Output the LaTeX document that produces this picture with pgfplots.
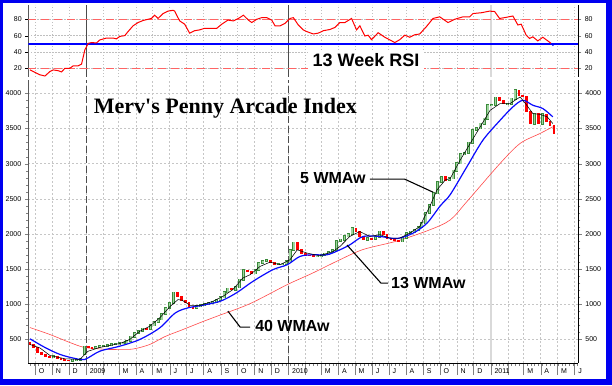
\documentclass[border=0pt]{standalone}
\usepackage{pgfplots}
\usepackage{pgfplotstable}
\pgfplotsset{compat=1.18}
\usepackage{fontspec}
\setmainfont{Liberation Sans}
\newfontfamily\titlefont{Liberation Serif}
\definecolor{frameblue}{HTML}{0000F0}
\definecolor{gup}{HTML}{3A8A3A}
\definecolor{gupfill}{HTML}{9ED49E}
\definecolor{cred}{HTML}{FF0000}
\definecolor{maforty}{HTML}{FF4A4A}
\definecolor{mathirteen}{HTML}{0A0AFF}
\definecolor{rsidash}{RGB}{255,100,100}

\pgfplotstableread{
d o c
-59 245 259
-24 200 215
-17 215 215
-10 215 220
-3 290 400
18 380 395
25 395 405
32 405 410
39 410 420
46 420 430
53 430 440
60 440 444
67 444 445
74 445 480
81 480 540
88 540 590
95 590 620
102 620 655
116 650 700
123 700 750
130 750 785
137 785 860
144 860 950
151 950 1020
158 1020 1166
200 950 970
207 970 990
214 990 1000
221 1000 1020
228 1020 1040
235 1040 1060
242 1060 1100
249 1100 1170
256 1170 1223
270 1210 1240
277 1240 1350
284 1350 1482
305 1440 1492
312 1492 1587
319 1587 1620
326 1620 1630
347 1572 1572
354 1572 1580
361 1580 1610
368 1610 1775
375 1775 1879
417 1680 1680
424 1680 1700
431 1700 1720
438 1720 1740
445 1740 1775
452 1775 1900
459 1900 1920
466 1920 1965
473 1965 2000
480 2000 2083
508 1917 1940
522 1930 1960
529 1960 2035
571 1893 1940
578 1940 2012
585 2012 2035
592 2035 2060
599 2060 2100
606 2100 2150
613 2150 2295
620 2295 2413
627 2413 2578
634 2578 2743
641 2743 2814
655 2767 2790
662 2790 2900
669 2900 3004
676 3004 3136
683 3136 3150
690 3150 3300
697 3300 3476
704 3476 3500
711 3500 3570
718 3570 3641
725 3641 3830
732 3830 3830
739 3830 3939
760 3854 3854
767 3854 3925
774 3925 4042
809 3570 3710
823 3570 3700
}\upT

\pgfplotstableread{
d o c
-101 460 430
-94 430 390
-87 390 320
-80 320 285
-73 285 260
-66 260 245
-52 259 235
-45 235 215
-38 215 205
-31 205 200
4 400 385
11 385 380
109 655 650
165 1166 1113
172 1113 1050
179 1050 1020
186 1020 953
193 953 950
263 1223 1210
291 1482 1468
298 1468 1440
333 1630 1600
340 1600 1572
382 1879 1775
389 1775 1728
396 1728 1700
403 1700 1690
410 1690 1680
487 2083 2035
494 2035 1965
501 1965 1917
515 1940 1930
536 2035 1990
543 1990 1940
550 1940 1925
557 1925 1910
564 1910 1893
648 2814 2767
746 3939 3900
753 3900 3854
781 4042 3972
788 3972 3950
795 3950 3735
802 3735 3570
816 3710 3570
830 3700 3600
837 3600 3540
844 3540 3430
}\downT

\pgfplotsset{
  common/.style={
    scale only axis, anchor=south west, width=550pt,
    xmin=-104, xmax=888,
    tick label style={font=\fontsize{7}{8}\selectfont},
    /pgf/number format/assume math mode=true,
    /pgf/number format/set thousands separator={},
    tick align=outside,
  },
}

\begin{document}
\begin{tikzpicture}
\fill[frameblue] (0pt,0pt) rectangle (612pt,385pt);
\fill[white] (3pt,6pt) rectangle (606pt,382pt);

% ---------- RSI panel: left axis, grid ----------
\begin{axis}[common, at={(28.3pt,308pt)}, height=72pt, ymin=9.3, ymax=97.5,
  axis y line*=left, axis x line=none,
  y axis line style={draw=gray!70!black, line width=1.5pt},
  ymajorgrids, ytick={20,40,60,80},
  major grid style={gray!50, dash pattern=on 1.2pt off 1.8pt, line width=0.5pt},
  ytick style={black}, major tick length=3pt,
]
\pgfplotsinvokeforeach{-92,-61,-31,31,59,90,120,151,181,212,243,273,304,334,396,424,455,485,516,546,577,608,638,669,699,761,789,820,850,881}{
  \draw[gray!50, dash pattern=on 1.2pt off 1.8pt, line width=0.5pt] (axis cs:#1,9.3) -- (axis cs:#1,97.5);
}
\draw[gray!60!black, line width=0.6pt] (axis cs:0,9.3) -- (axis cs:0,97.5);
\draw[gray!60!black, line width=0.6pt] (axis cs:365,9.3) -- (axis cs:365,97.5);
\draw[gray!30, line width=1.6pt] (axis cs:730,9.3) -- (axis cs:730,97.5);
\end{axis}

% ---------- RSI panel: right axis, reference levels and RSI ----------
\begin{axis}[common, at={(28.3pt,308pt)}, height=72pt, ymin=9.3, ymax=97.5,
  axis y line*=right, axis x line=none,
  y axis line style={draw=black, line width=0.6pt},
  ytick={20,40,60,80}, major tick length=3pt,
]
\addplot[draw=rsidash, line width=1.3pt, dash pattern=on 8pt off 5pt, mark=none, forget plot] coordinates {(-104,80) (888,80)};
\addplot[draw=rsidash, line width=1.3pt, dash pattern=on 8pt off 5pt, mark=none, forget plot] coordinates {(-104,20) (888,20)};
\addplot[draw=blue, line width=1.6pt, mark=none, forget plot] coordinates {(-104,50) (888,50)};
\addplot[draw=cred, line width=1pt, mark=none] coordinates {
(-101,18) (-95,16) (-83,12) (-74,10.5) (-65,16) (-59,18) (-50,17) (-44,15.5)
(-38,20) (-29,20) (-23,23) (-14,23) (-8,25) (-2,42.5) (4,50.5) (10,51.5)
(19,51) (25,54.7) (37,57) (49,57) (55,56) (61,59) (70,60) (76,65) (85,72)
(94,76) (103,78.5) (112,80) (118,81) (124,85) (130,81) (139,87) (148,90)
(157,91) (160,90) (169,78) (178,74) (187,63) (196,66) (205,67) (214,69)
(223,69) (236,69) (245,74) (256,79) (266,78) (275,81) (284,85) (293,79)
(299,76) (308,80) (317,82) (326,82) (335,79) (341,72) (350,72) (359,75)
(368,81) (374,82) (383,73) (392,67) (398,65) (410,62) (419,63) (428,66)
(440,67.5) (449,70) (458,76) (467,76) (479,81) (488,67) (494,72) (503,59.5)
(509,60.5) (515,55) (527,63.5) (539,58) (557,51.5) (566,55) (575,60.5)
(584,58) (593,61) (602,62) (614,71) (626,81) (638,83) (653,76) (665,80)
(680,83) (692,83) (698,87) (713,88) (728,90) (737,89.5) (746,81) (755,82)
(770,84) (779,73) (785,74) (794,60.5) (800,56.5) (806,58.5) (815,53.5)
(824,58) (833,53.5) (839,50.5)
};
\addplot[draw=blue, line width=1pt, mark=none] coordinates {(839,50.5) (843,47.5)};
\node[fill=white, inner xsep=5pt, inner ysep=2pt, font=\bfseries\fontsize{18}{20}\selectfont]
  at (axis cs:505,30) {13 Week RSI};
\end{axis}

% ---------- Main panel: left y axis and horizontal grid ----------
\begin{axis}[common, at={(28.3pt,22pt)}, height=283pt, ymin=166, ymax=4189,
  axis y line*=left, axis x line=none,
  y axis line style={draw=gray!70!black, line width=1.5pt},
  ytick={500,1000,...,4000}, minor y tick num=4,
  major tick length=3.5pt, minor tick length=2pt,
  ymajorgrids, major grid style={gray!45, dash pattern=on 2pt off 2pt, line width=0.5pt},
]
\end{axis}

% ---------- Main panel: data and x axis ----------
\begin{axis}[common, at={(28.3pt,22pt)}, height=283pt, ymin=166, ymax=4189,
  axis x line*=bottom, axis y line=none,
  x axis line style={draw=black, line width=0.8pt},
  xtick={-92,-61,-31,0,31,59,90,120,151,181,212,243,273,304,334,365,396,424,455,485,516,546,577,608,638,669,699,730,761,789,820,850,881},
  xticklabels={O,N,D,2009,{},M,A,M,J,J,A,S,O,N,D,2010,{},M,A,M,J,J,A,S,O,N,D,2011,{},M,A,M,J},
  minor xtick={-101,-94,...,887},
  major tick length=12pt, minor tick length=3pt,
  xticklabel style={anchor=west, xshift=0.3pt, yshift=4pt},
  xmajorgrids, major grid style={gray!45, dash pattern=on 2pt off 2pt, line width=0.5pt},
]
\draw[gray!60!black, line width=0.7pt, dash pattern=on 7pt off 3pt] (axis cs:0,166) -- (axis cs:0,4189);
\draw[gray!60!black, line width=0.7pt, dash pattern=on 7pt off 3pt] (axis cs:365,166) -- (axis cs:365,4189);
\draw[gray!30, line width=1.6pt] (axis cs:730,166) -- (axis cs:730,4189);

% 40 WMAw
\addplot[maforty, line width=0.6pt, mark=none, smooth] coordinates {
(-101,670) (-65,571) (-29,457) (-5,391) (16,372) (43,358) (61,360) (85,365)
(115,429) (142,540) (175,642) (206,740) (236,830) (296,1010) (363,1280)
(409,1445) (458,1634) (500,1780) (561,1900) (620,2059) (657,2200) (687,2460)
(747,3004) (783,3287) (819,3429) (842,3523)
};

% candles: green (up) hollow style
\addplot[draw=none, mark=none, forget plot,
  error bars/.cd, y dir=both, y explicit, error mark=none,
  error bar style={gup, line width=3pt}]
  table[x=d, y expr={(\thisrow{o}+\thisrow{c})/2}, y error expr={abs(\thisrow{c}-\thisrow{o})/2+14}] {\upT};
\addplot[draw=none, mark=none, forget plot,
  error bars/.cd, y dir=both, y explicit, error mark=none,
  error bar style={gupfill, line width=1.5pt}]
  table[x=d, y expr={(\thisrow{o}+\thisrow{c})/2}, y error expr={abs(\thisrow{c}-\thisrow{o})/2+3}] {\upT};
% candles: red (down)
\addplot[draw=none, mark=none, forget plot,
  error bars/.cd, y dir=both, y explicit, error mark=none,
  error bar style={cred, line width=2.8pt}]
  table[x=d, y expr={(\thisrow{o}+\thisrow{c})/2}, y error expr={abs(\thisrow{c}-\thisrow{o})/2+7}] {\downT};

% 13 WMAw
\addplot[mathirteen, line width=1.2pt, mark=none, smooth] coordinates {
(-101,510) (-74,387) (-47,288) (-20,231) (-2,217) (25,334) (61,405) (97,500)
(133,665) (161,877) (184,950) (206,981) (242,1043) (272,1166) (301,1326)
(337,1492) (363,1563) (386,1681) (409,1705) (435,1705) (458,1775) (476,1846)
(500,1965) (530,1965) (561,1935) (590,2012) (615,2153) (639,2400) (657,2560)
(687,2955) (716,3334) (747,3617) (770,3806) (788,3901) (806,3830) (824,3783)
(842,3665)
};

% 5 WMAw
\addplot[black, line width=0.55pt, mark=none] coordinates {
(-101,429) (-83,380) (-65,273) (-38,226) (-11,217) (4,334) (25,387) (61,443)
(79,500) (97,618) (115,689) (133,807) (152,972) (166,1067) (173,1060) (188,986)
(206,986) (229,1043) (247,1113) (265,1210) (283,1374) (296,1421) (314,1539)
(332,1600) (350,1563) (368,1634) (381,1775) (399,1728) (422,1690) (446,1752)
(458,1822) (476,1965) (494,2035) (512,1965) (530,1990) (548,1941) (566,1941)
(584,2012) (602,2106) (620,2389) (633,2625) (648,2767) (657,2790) (675,3051)
(693,3287) (711,3523) (729,3759) (747,3854) (765,3854) (783,3948) (795,3830)
(806,3712) (819,3700) (832,3665) (842,3570)
};

% annotations
\node[anchor=west, inner sep=0pt, font=\titlefont\bfseries\fontsize{22}{26}\selectfont]
  at (axis cs:14,3787) {Merv's Penny Arcade Index};
\node[anchor=west, inner sep=0pt, font=\bfseries\fontsize{16}{18}\selectfont]
  at (axis cs:386,2793) {5 WMAw};
\draw[black, line width=1.1pt] (axis cs:512,2779) -- (axis cs:575,2779) -- (axis cs:626,2594);
\node[anchor=west, inner sep=0pt, font=\bfseries\fontsize{16}{18}\selectfont]
  at (axis cs:550,1302) {13 WMAw};
\draw[black, line width=1.1pt] (axis cs:471,1842) -- (axis cs:532,1302) -- (axis cs:545,1302);
\node[anchor=west, inner sep=0pt, font=\bfseries\fontsize{16}{18}\selectfont]
  at (axis cs:305,691) {40 WMAw};
\draw[black, line width=1.1pt] (axis cs:256,904) -- (axis cs:278,677) -- (axis cs:296,677);
\end{axis}

% ---------- Main panel: right y axis ----------
\begin{axis}[common, at={(28.3pt,22pt)}, height=283pt, ymin=166, ymax=4189,
  axis y line*=right, axis x line=none,
  y axis line style={draw=black, line width=0.6pt},
  ytick={500,1000,...,4000}, minor y tick num=4,
  major tick length=3.5pt, minor tick length=2pt,
]
\end{axis}
\pgfresetboundingbox
\useasboundingbox (0pt,0pt) rectangle (612pt,385pt);
\end{tikzpicture}
\end{document}
